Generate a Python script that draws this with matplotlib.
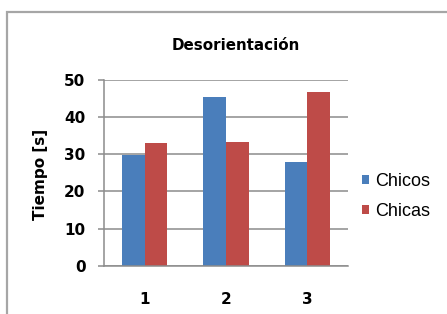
import numpy as np
import matplotlib
matplotlib.use("Agg")
import matplotlib.pyplot as plt
from matplotlib.patches import Rectangle

# data
categories = ["1", "2", "3"]
chicos = [29.8, 45.3, 28.0]
chicas = [33.0, 33.4, 46.9]

plt.rcParams['font.family'] = ['Liberation Sans', 'DejaVu Sans']

fig = plt.figure(figsize=(4.47, 3.14), dpi=100)
ax = fig.add_axes([104 / 447, 1 - 265.7 / 314, 244 / 447, 185.7 / 314])

# outer frame of the chart, runs off the bottom/right of the image
fig.patches.append(Rectangle((7 / 447, -0.1), 1.2, 1 - 12 / 314 + 0.1,
                             transform=fig.transFigure, fill=False,
                             edgecolor="#a6a6a6", lw=1.6))

x = np.arange(1, len(categories) + 1)
w = 0.28
ax.bar(x - w / 2, chicos, w, color="#4a7ebb", label="Chicos")
ax.bar(x + w / 2, chicas, w, color="#be4b48", label="Chicas")

ax.set_xlim(0.5, 3.5)
ax.set_ylim(0, 50)
ax.set_yticks(range(0, 51, 10))
ax.set_xticks(x)
ax.set_xticklabels(categories)
ax.yaxis.grid(True, color="#8c8c8c", lw=1.1)
ax.set_axisbelow(True)

for s in ["top", "right"]:
    ax.spines[s].set_visible(False)
ax.spines["left"].set_color("#8c8c8c")
ax.spines["bottom"].set_color("#8c8c8c")
ax.spines["left"].set_linewidth(1.1)
ax.spines["bottom"].set_linewidth(1.1)

ax.tick_params(axis="y", length=4.3, width=1.1, color="#8c8c8c", pad=9)
ax.tick_params(axis="x", length=0, pad=19)
for lab in ax.get_xticklabels() + ax.get_yticklabels():
    lab.set_fontweight("bold")
    lab.set_family("DejaVu Sans")
    lab.set_fontsize(11)

fig.text(40.5 / 447, 1 - 174 / 314, "Tiempo [s]", rotation=90,
         ha="center", va="center", fontsize=11, fontweight="bold",
         family="DejaVu Sans")
fig.text(235.5 / 447, 1 - 46 / 314, "Desorientación", ha="center",
         va="center", fontsize=10.9, fontweight="bold", family="DejaVu Sans")

ax.legend(loc="center left", bbox_to_anchor=(362 / 447, 1 - 196.5 / 314),
          bbox_transform=fig.transFigure, frameon=False, fontsize=13,
          handlelength=0.4, handleheight=0.4, handletextpad=0.35,
          labelspacing=0.7, borderpad=0, borderaxespad=0)

fig.savefig("out.png", dpi=100)
